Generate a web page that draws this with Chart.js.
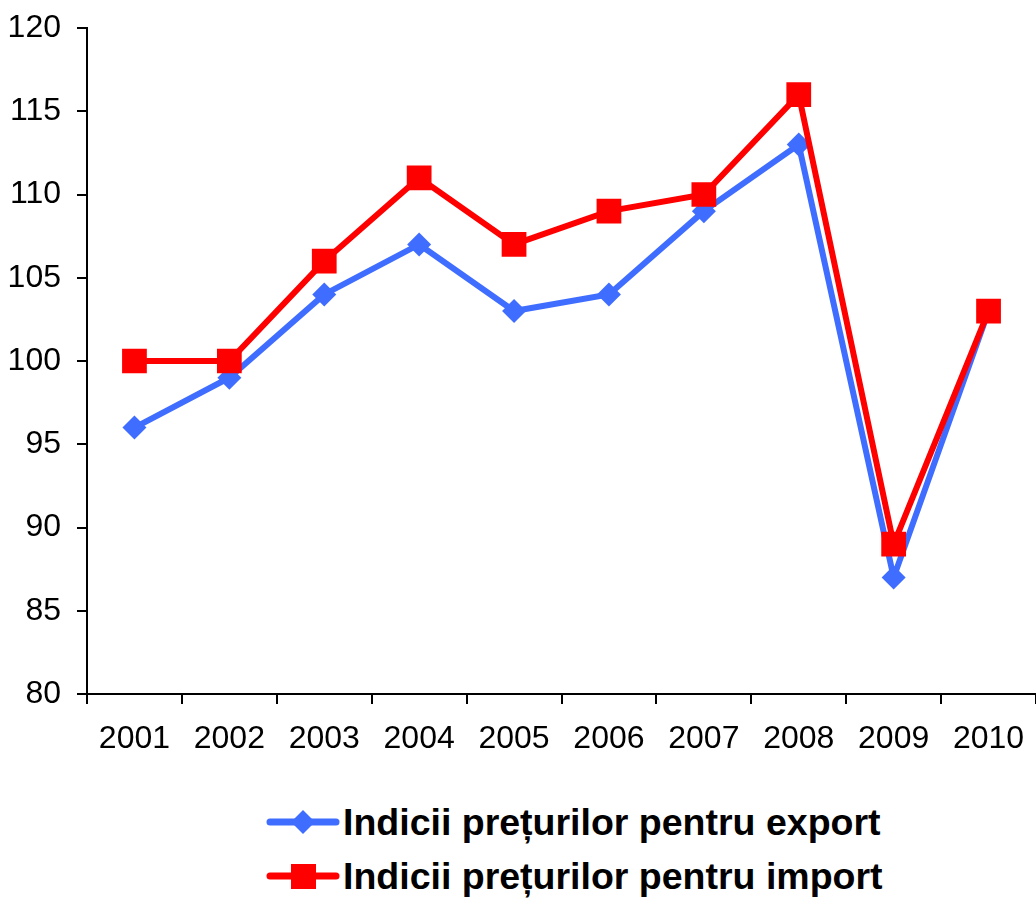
<!DOCTYPE html>
<html>
<head>
<meta charset="utf-8">
<script src="https://cdn.jsdelivr.net/npm/chart.js@4/dist/chart.umd.min.js"></script>
<style>
  body { margin: 0; background: #fff; font-family: "Liberation Sans", Arial, sans-serif; }
  #wrap { position: relative; width: 1036px; height: 898px; }
  #box { position: absolute; left: 0; top: 0; width: 1036px; height: 780px; }
  .row { position: absolute; left: 266px; height: 50px; display: flex; align-items: center; }
  .row svg { width: 74px; height: 40px; }
  .row span { font-weight: bold; font-size: 37.5px; color: #000; margin-left: 3px; white-space: nowrap; }
</style>
</head>
<body>
<div id="wrap">
  <div id="box"><canvas id="chart"></canvas></div>
  <div class="row" style="top:797px">
    <svg viewBox="0 0 74 40"><line x1="4" y1="20" x2="70" y2="20" stroke="#3f6dff" stroke-width="7" stroke-linecap="round"/><polygon points="37,8 49,20 37,32 25,20" fill="#3f6dff"/></svg>
    <span>Indicii prețurilor pentru export</span>
  </div>
  <div class="row" style="top:851px">
    <svg viewBox="0 0 74 40"><line x1="4" y1="20" x2="70" y2="20" stroke="#ff0000" stroke-width="7" stroke-linecap="round"/><rect x="25" y="8" width="25" height="25" fill="#ff0000"/></svg>
    <span>Indicii prețurilor pentru import</span>
  </div>
</div>
<script>
const years = ['2001', '2002', '2003', '2004', '2005', '2006', '2007', '2008', '2009', '2010']
const exportIdx = [96, 99, 104, 107, 103, 104, 109, 113, 87, 103]
const importIdx = [100, 100, 106, 111, 107, 109, 110, 116, 89, 103]

const blue = '#3f6dff'
const red = '#ff0000'
const tickFont = { family: 'Liberation Sans', size: 32 }

new Chart(document.getElementById('chart').getContext('2d'), {
  type: 'line',
  data: {
    labels: years,
    datasets: [
      {
        label: 'Indicii prețurilor pentru export',
        data: exportIdx,
        borderColor: blue,
        backgroundColor: blue,
        borderWidth: 6,
        pointStyle: 'rectRot',
        pointRadius: 12,
        pointBorderWidth: 0,
        tension: 0,
        order: 1
      },
      {
        label: 'Indicii prețurilor pentru import',
        data: importIdx,
        borderColor: red,
        backgroundColor: red,
        borderWidth: 6,
        pointStyle: 'rect',
        pointRadius: 17.5,
        pointBorderWidth: 0,
        tension: 0,
        order: 0
      }
    ]
  },
  options: {
    responsive: true,
    maintainAspectRatio: false,
    animation: false,
    layout: { autoPadding: false, padding: { top: 28, right: 0, left: 0, bottom: 0 } },
    plugins: {
      legend: { display: false },
      tooltip: { enabled: false }
    },
    scales: {
      x: {
        offset: true,
        border: { display: true, color: '#000', width: 2 },
        grid: { offset: true, drawOnChartArea: false, drawTicks: true, tickLength: 10, color: '#000', lineWidth: 2 },
        ticks: { color: '#000', font: tickFont, padding: 16, maxRotation: 0 },
        afterFit: (s) => {
          s.height = 86
          s.paddingLeft = 0
          s.paddingRight = 0
        }
      },
      y: {
        min: 80,
        max: 120,
        border: { display: true, color: '#000', width: 2 },
        grid: { drawOnChartArea: false, drawTicks: true, tickLength: 10, color: '#000', lineWidth: 2 },
        ticks: { color: '#000', font: tickFont, stepSize: 5, padding: 16 },
        afterFit: (s) => {
          s.width = 87
          s.paddingTop = 0
          s.paddingBottom = 0
        }
      }
    }
  }
})
</script>
</body>
</html>
